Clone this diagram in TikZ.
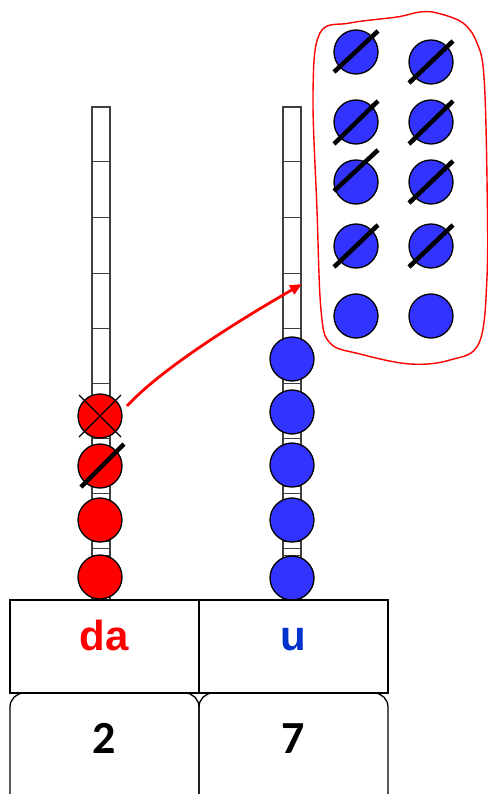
\documentclass[tikz,border=0pt]{standalone}
\usepackage{fontspec}
\newfontfamily\placefont{Liberation Sans}
\newfontfamily\digitfont{Carlito}
\usetikzlibrary{arrows.meta}
\definecolor{beadblue}{HTML}{3333FF}
\definecolor{labelblue}{HTML}{0033CC}

\begin{document}
\begin{tikzpicture}[x=1pt,y=-1pt,
    bead/.style ={circle, draw, line width=1.3pt, minimum size=44pt, inner sep=0pt},
    redbead/.style ={bead, fill=red},
    bluebead/.style ={bead, fill=beadblue},
    strike/.style ={line width=4.5pt},
    rod/.style ={draw=black!75, line width=1.4pt},
    rung/.style ={black!75, line width=1pt},
    cell/.style ={draw, line width=1.3pt},
    place/.style ={font=\placefont\bfseries\fontsize{42}{42}\selectfont, anchor=base, inner sep=0pt},
    digit/.style ={font=\digitfont\bfseries\fontsize{46}{46}\selectfont, anchor=base, inner sep=0pt}]
   \useasboundingbox (0,0) rectangle (487,794);
   % rods
   \draw[rod] (92,107) rectangle (110,600);
   \draw[rod] (283,107) rectangle (301,600);
   \foreach \y in {162,218,273,328,383} {
      \draw[rung] (92,\y) -- (110,\y);
      \draw[rung] (283,\y) -- (301,\y);
   }
   \foreach \k in {2,...,31} {
      \draw[rung] (92,{383+\k*6.9}) -- (110,{383+\k*6.9});
      \draw[rung] (283,{383+\k*6.9}) -- (301,{383+\k*6.9});
   }
   % tens
   \node[redbead] (da1) at (100,416) {};
   \node[redbead] (da2) at (100,466) {};
   \node[redbead] (da3) at (100,520) {};
   \node[redbead] (da4) at (100,577) {};
   \draw[line width=1.2pt] ([shift={(-21,-21)}]da1.center) -- ([shift={(21,21)}]da1.center);
   \draw[line width=1.2pt] ([shift={(-21,21)}]da1.center) -- ([shift={(21,-21)}]da1.center);
   \draw[strike] ([shift={(-19,21)}]da2.center) -- ([shift={(24,-22)}]da2.center);
   % units
   \node[bluebead] (u1) at (292,359) {};
   \node[bluebead] (u2) at (292,412) {};
   \node[bluebead] (u3) at (292,465) {};
   \node[bluebead] (u4) at (292,520) {};
   \node[bluebead] (u5) at (292,578) {};
   % exchanged units
   \draw[red, line width=1.4pt] plot[smooth cycle, tension=0.6] coordinates {
      (320,33) (350,23) (397,17) (420,12) (437,13) (463,23) (477,43) (484,77)
      (487,180) (487,277) (479,343) (450,360) (410,364) (360,354) (330,343)
      (321,310) (317,210) (313,93)};
   \node[bluebead] (c1) at (356,52) {};
   \node[bluebead] (c2) at (431,62) {};
   \node[bluebead] (c3) at (356,122) {};
   \node[bluebead] (c4) at (431,122) {};
   \node[bluebead] (c5) at (356,182) {};
   \node[bluebead] (c6) at (431,182) {};
   \node[bluebead] (c7) at (356,246) {};
   \node[bluebead] (c8) at (431,246) {};
   \node[bluebead] (c9) at (356,316) {};
   \node[bluebead] (c10) at (431,316) {};
   \draw[strike] ([shift={(-22,20)}]c1.center) -- ([shift={(22,-21)}]c1.center);
   \draw[strike] ([shift={(-22,21)}]c2.center) -- ([shift={(22,-21)}]c2.center);
   \draw[strike] ([shift={(-22,22)}]c3.center) -- ([shift={(22,-21)}]c3.center);
   \draw[strike] ([shift={(-22,22)}]c4.center) -- ([shift={(22,-21)}]c4.center);
   \draw[strike] ([shift={(-22,9)}]c5.center) -- ([shift={(22,-32)}]c5.center);
   \draw[strike] ([shift={(-22,21)}]c6.center) -- ([shift={(22,-21)}]c6.center);
   \draw[strike] ([shift={(-22,21)}]c7.center) -- ([shift={(22,-21)}]c7.center);
   \draw[strike] ([shift={(-22,21)}]c8.center) -- ([shift={(22,-21)}]c8.center);
   % change arrow
   \coordinate (from) at (127,406);
   \coordinate (to) at (302,284);
   \draw[red, line width=2.8pt, -{Triangle[length=12pt,width=10pt]}]
      (from) .. controls (150,381) and (200,343) .. (to);
   % table
   \draw[cell] (10,600) rectangle (388,693);
   \draw[cell] (199,600) -- (199,693);
   \draw[cell, rounded corners=14pt] (10,693) rectangle (199,808);
   \draw[cell, rounded corners=14pt] (199,693) rectangle (388,808);
   \node[place, red] (da) at (104,650) {da};
   \node[place, labelblue] (u) at (293,650) {u};
   \node[digit] (tens) at (104,753) {2};
   \node[digit] (units) at (293,753) {7};
 \end{tikzpicture}
\end{document}
